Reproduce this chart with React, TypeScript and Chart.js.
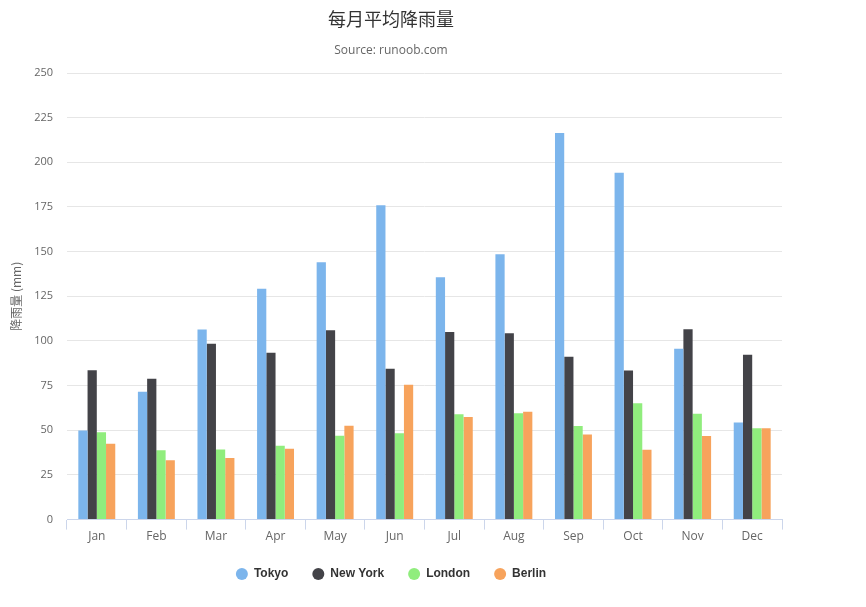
import React, { useEffect, useRef } from "react";
import { Chart, registerables } from "chart.js";

Chart.register(...registerables);

const months = ["Jan", "Feb", "Mar", "Apr", "May", "Jun", "Jul", "Aug", "Sep", "Oct", "Nov", "Dec"];
const tokyo = [49.9, 71.5, 106.4, 129.2, 144.0, 176.0, 135.6, 148.5, 216.4, 194.1, 95.6, 54.4];
const newYork = [83.6, 78.8, 98.5, 93.4, 106.0, 84.5, 105.0, 104.3, 91.2, 83.5, 106.6, 92.3];
const london = [48.9, 38.8, 39.3, 41.4, 47.0, 48.3, 59.0, 59.6, 52.4, 65.2, 59.3, 51.2];
const berlin = [42.4, 33.2, 34.5, 39.7, 52.6, 75.5, 57.4, 60.4, 47.6, 39.1, 46.8, 51.1];

const seriesNames = ["Tokyo", "New York", "London", "Berlin"];
const seriesColors = ["#7cb5ec", "#434348", "#90ed7d", "#f7a35c"];

const SANS = "'Open Sans', 'DejaVu Sans', sans-serif";

export default function App() {
  const ref = useRef<HTMLCanvasElement | null>(null);
  useEffect(() => {
    if (!ref.current) return;
    const values = [tokyo, newYork, london, berlin];
    const chart = new Chart(ref.current, {
      type: "bar",
      data: {
        labels: months,
        datasets: values.map((d, i) => ({
          label: seriesNames[i],
          data: d,
          backgroundColor: seriesColors[i],
          borderWidth: 0,
          categoryPercentage: 0.62,
          barPercentage: 1,
        })),
      },
      options: {
        animation: false,
        responsive: true,
        maintainAspectRatio: false,
        layout: { padding: { left: 0, right: 84, top: 0, bottom: 17 } },
        plugins: {
          title: {
            display: true,
            text: "每月平均降雨量",
            color: "#333333",
            font: { size: 18, weight: "normal", family: "'Noto Sans CJK SC', serif" },
            padding: { top: 8, bottom: 14 },
          },
          subtitle: {
            display: true,
            text: "Source: runoob.com",
            color: "#666666",
            font: { size: 12, weight: "normal", family: SANS },
            padding: { top: 0, bottom: 15 },
          },
          legend: {
            position: "bottom",
            labels: {
              usePointStyle: true,
              pointStyle: "circle",
              boxHeight: 8.5,
              boxWidth: 12,
              padding: 24,
              color: "#333333",
              font: { size: 12, weight: "bold", family: "'Liberation Sans', Arial, sans-serif" },
            },
          },
          tooltip: { enabled: false },
        },
        scales: {
          x: {
            grid: {
              display: true,
              drawOnChartArea: false,
              drawTicks: true,
              tickLength: 10,
              color: "#ccd6eb",
              offset: true,
            },
            border: { display: true, color: "#ccd6eb" },
            ticks: { color: "#666666", font: { size: 12, family: SANS }, padding: 0 },
          },
          y: {
            min: 0,
            max: 250,
            ticks: { stepSize: 25, color: "#666666", font: { size: 11, family: SANS }, padding: 14 },
            grid: { color: "#e6e6e6", drawTicks: false },
            border: { display: false },
            title: {
              display: true,
              text: "降雨量 (mm)",
              color: "#666666",
              font: { size: 12, family: "'Noto Sans CJK SC', sans-serif" },
              padding: { top: 9, bottom: 0 },
            },
            afterFit: (scale: any) => {
              scale.width = 67;
            },
          },
        },
      },
    });
    return () => chart.destroy();
  }, []);
  return (
    <div style={{ position: "absolute", left: 0, top: 0, width: 866, height: 607, background: "#fff" }}>
      <canvas ref={ref} />
    </div>
  );
}
